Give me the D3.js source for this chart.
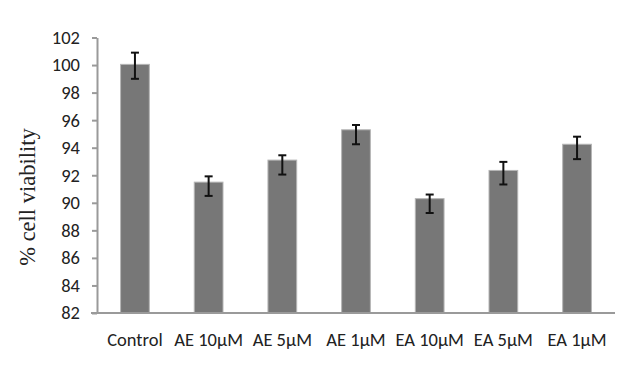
<!DOCTYPE html>
<html><head><meta charset="utf-8">
<script src="https://cdn.jsdelivr.net/npm/d3@7"></script>
<style>body{margin:0;background:#fff}</style>
</head><body>
<svg id="c" width="640" height="377"></svg>
<script>
const categories = ["Control","AE 10µM","AE 5µM","AE 1µM","EA 10µM","EA 5µM","EA 1µM"];
const values = [100.05, 91.5, 93.1, 95.3, 90.3, 92.35, 94.25];
const errUp = [0.85, 0.42, 0.35, 0.35, 0.3, 0.62, 0.55];
const errDown = [1.05, 1.0, 1.05, 1.05, 1.04, 1.02, 1.08];
const yTicks = [82,84,86,88,90,92,94,96,98,100,102];
const yTitle = "% cell viability";

const svg = d3.select("#c");
const m = {left:97, right:615, top:37.5, bottom:313};
const x = d3.scaleBand().domain(categories).range([m.left, m.right]).paddingInner(0.61).paddingOuter(0.32);
const y = d3.scaleLinear().domain([82,102]).range([m.bottom, m.top]);
const font = "Carlito, Lato, 'Open Sans', sans-serif";

// bars
svg.append("g").selectAll("rect").data(values).join("rect")
  .attr("x",(d,i)=>x(categories[i])).attr("width",x.bandwidth())
  .attr("y",d=>y(d)).attr("height",d=>y(82)-y(d))
  .attr("fill","#777777").attr("stroke","#b5b5b5").attr("stroke-width",1);

// error bars
const eb = svg.append("g").attr("stroke","#111").attr("stroke-width",2);
values.forEach((v,i)=>{
  const cx = x(categories[i]) + x.bandwidth()/2;
  const t = y(v+errUp[i]), b = y(v-errDown[i]);
  eb.append("line").attr("x1",cx).attr("x2",cx).attr("y1",t).attr("y2",b);
  eb.append("line").attr("x1",cx-4).attr("x2",cx+4).attr("y1",t).attr("y2",t);
  eb.append("line").attr("x1",cx-4).attr("x2",cx+4).attr("y1",b).attr("y2",b);
});

// y axis
const ya = svg.append("g").attr("transform",`translate(${m.left},0)`)
  .call(d3.axisLeft(y).tickValues(yTicks).tickSize(5).tickSizeOuter(0).tickPadding(12));
ya.select(".domain").attr("stroke","#9a9a9a").attr("stroke-width",2);
ya.selectAll(".tick line").attr("stroke","#9a9a9a").attr("stroke-width",2);
ya.selectAll("text").attr("font-family",font).attr("font-size",18.5).attr("fill","#222");

// x axis
const xa = svg.append("g").attr("transform",`translate(0,${m.bottom})`)
  .call(d3.axisBottom(x).tickSize(0).tickPadding(20));
xa.select(".domain").attr("stroke","#9a9a9a").attr("stroke-width",2).attr("d",`M${m.left-6},0H${m.right}`);
xa.selectAll("text").attr("font-family",font).attr("font-size",18.5).attr("fill","#222");

svg.append("text").attr("transform","translate(35,197) rotate(-90)")
  .attr("text-anchor","middle").attr("font-family","'Liberation Serif', 'Times New Roman', serif")
  .attr("font-size",22.5).attr("fill","#222").text(yTitle);
</script>
</body></html>
